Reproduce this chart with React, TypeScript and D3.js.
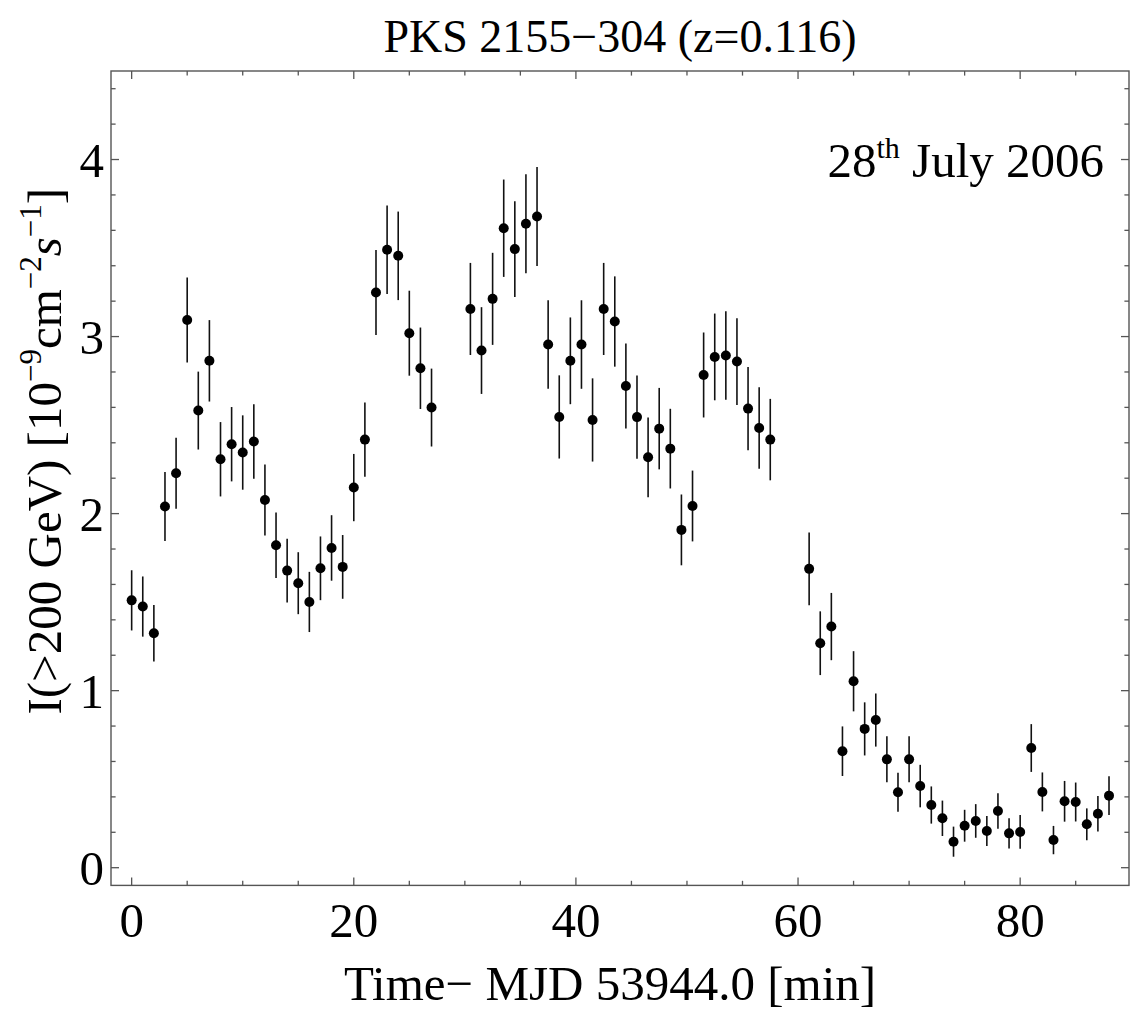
import React from "react";
import * as d3 from "d3";

const times: number[] = [
  0, 1, 2, 3, 4, 5, 6, 7, 8, 9, 10, 11, 12, 13, 14, 15, 16, 17, 18, 19, 20, 21, 22, 23, 24, 25, 26, 27,
  30.5, 31.5, 32.5, 33.5, 34.5, 35.5, 36.5, 37.5, 38.5, 39.5, 40.5, 41.5, 42.5, 43.5, 44.5, 45.5, 46.5, 47.5, 48.5, 49.5, 50.5, 51.5, 52.5, 53.5, 54.5, 55.5, 56.5, 57.5,
  61, 62, 63, 64, 65, 66, 67, 68, 69, 70, 71, 72, 73, 74, 75, 76, 77, 78, 79, 80, 81, 82, 83, 84, 85, 86, 87, 88,
];

const flux: number[] = [
  1.51, 1.475, 1.324, 2.04, 2.228, 3.094, 2.582, 2.863, 2.307, 2.392, 2.345, 2.407, 2.077, 1.821,
  1.678, 1.607, 1.501, 1.691, 1.806, 1.699, 2.147, 2.418, 3.249, 3.49, 3.456, 3.019, 2.821, 2.599,
  3.156, 2.921, 3.213, 3.612, 3.494, 3.637, 3.678, 2.955, 2.546, 2.863, 2.955, 2.529, 3.156, 3.085,
  2.721, 2.545, 2.318, 2.48, 2.367, 1.908, 2.043, 2.783, 2.885, 2.893, 2.859, 2.593, 2.484, 2.418,
  1.688, 1.268, 1.362, 0.658, 1.053, 0.784, 0.834, 0.612, 0.426, 0.612, 0.461, 0.354, 0.279, 0.147,
  0.237, 0.264, 0.207, 0.32, 0.194, 0.202, 0.676, 0.428, 0.156, 0.375, 0.371, 0.245, 0.305, 0.407,
];

const fluxErr: number[] = [
  0.17, 0.17, 0.16, 0.195, 0.2, 0.24, 0.22, 0.23, 0.21, 0.21, 0.21, 0.21, 0.2, 0.185,
  0.18, 0.175, 0.17, 0.18, 0.185, 0.18, 0.19, 0.21, 0.24, 0.25, 0.25, 0.24, 0.23, 0.22,
  0.26, 0.245, 0.26, 0.275, 0.27, 0.28, 0.28, 0.25, 0.235, 0.245, 0.25, 0.235, 0.26, 0.255,
  0.24, 0.235, 0.225, 0.23, 0.225, 0.2, 0.2, 0.24, 0.245, 0.25, 0.245, 0.235, 0.23, 0.23,
  0.205, 0.18, 0.19, 0.14, 0.17, 0.15, 0.15, 0.13, 0.11, 0.13, 0.12, 0.105, 0.1, 0.085,
  0.09, 0.095, 0.085, 0.1, 0.085, 0.095, 0.135, 0.11, 0.08, 0.115, 0.11, 0.09, 0.1, 0.11,
];

const xMajorTicks: number[] = [0, 20, 40, 60, 80];
const xMinorTicks: number[] = [5, 10, 15, 25, 30, 35, 45, 50, 55, 65, 70, 75, 85];
const yMajorTicks: number[] = [0, 1, 2, 3, 4];
const yMinorTicks: number[] = [0.2, 0.4, 0.6, 0.8, 1.2, 1.4, 1.6, 1.8, 2.2, 2.4, 2.6, 2.8, 3.2, 3.4, 3.6, 3.8, 4.2, 4.4];

const W = 1130;
const H = 1013;
const L = 111;
const R = 1129;
const T = 71;
const B = 885.4;
const FONT = "'Liberation Serif', 'Times New Roman', Times, serif";

export default function App() {
  const x = d3.scaleLinear().domain([-1.86, 89.8]).range([L, R]);
  const y = d3.scaleLinear().domain([-0.1, 4.5]).range([B, T]);
  const axisColor = "#555";
  const majorLen = 8;
  const minorLen = 4.6;

  const pts = times.map((t, i) => ({ t, v: flux[i], e: fluxErr[i] }));

  return (
    <div style={{ position: "absolute", left: 0, top: 0 }}>
      <svg width={W} height={H} viewBox={`0 0 ${W} ${H}`} style={{ display: "block", background: "#fff" }}>
        <rect x={0} y={0} width={W} height={H} fill="#fff" />
        {/* title */}
        <text x={(L + R) / 2} y={52} textAnchor="middle" fontFamily={FONT} fontSize={46} fill="#000">
          PKS 2155−304 (z=0.116)
        </text>

        {/* ticks */}
        <g stroke={axisColor} strokeWidth={1.3}>
          {xMajorTicks.map((t) => (
            <g key={"xm" + t}>
              <line x1={x(t)} x2={x(t)} y1={B} y2={B - majorLen} />
              <line x1={x(t)} x2={x(t)} y1={T} y2={T + majorLen} />
            </g>
          ))}
          {xMinorTicks.map((t) => (
            <g key={"xn" + t}>
              <line x1={x(t)} x2={x(t)} y1={B} y2={B - minorLen} />
              <line x1={x(t)} x2={x(t)} y1={T} y2={T + minorLen} />
            </g>
          ))}
          {yMajorTicks.map((v) => (
            <g key={"ym" + v}>
              <line x1={L} x2={L + majorLen} y1={y(v)} y2={y(v)} />
              <line x1={R} x2={R - majorLen} y1={y(v)} y2={y(v)} />
            </g>
          ))}
          {yMinorTicks.map((v) => (
            <g key={"yn" + v}>
              <line x1={L} x2={L + minorLen} y1={y(v)} y2={y(v)} />
              <line x1={R} x2={R - minorLen} y1={y(v)} y2={y(v)} />
            </g>
          ))}
        </g>

        {/* frame */}
        <rect x={L} y={T} width={R - L} height={B - T} fill="none" stroke={axisColor} strokeWidth={1.4} />

        {/* tick labels */}
        <g fontFamily={FONT} fontSize={49} fill="#000">
          {xMajorTicks.map((t) => (
            <text key={"xl" + t} x={x(t)} y={937} textAnchor="middle">
              {t}
            </text>
          ))}
          {yMajorTicks.map((v) => (
            <text key={"yl" + v} x={104} y={y(v) + 17} textAnchor="end">
              {v}
            </text>
          ))}
        </g>

        {/* error bars */}
        <g stroke="#111" strokeWidth={1.6}>
          {pts.map((p, i) => (
            <line key={"e" + i} x1={x(p.t)} x2={x(p.t)} y1={y(p.v - p.e)} y2={y(p.v + p.e)} />
          ))}
        </g>
        {/* points */}
        <g fill="#000">
          {pts.map((p, i) => (
            <circle key={"c" + i} cx={x(p.t)} cy={y(p.v)} r={5} />
          ))}
        </g>

        {/* annotation */}
        <text x={1104} y={177} textAnchor="end" fontFamily={FONT} fontSize={49} fill="#000">
          28
          <tspan fontSize={30} dy={-19}>th</tspan>
          <tspan dy={19}> July 2006</tspan>
        </text>

        {/* x label */}
        <text x={(L + R) / 2 - 10} y={1000} textAnchor="middle" fontFamily={FONT} fontSize={49} fill="#000">
          Time− MJD 53944.0 [min]
        </text>

        {/* y label */}
        <text
          transform={`translate(61, ${(T + B) / 2 - 27}) rotate(-90)`}
          textAnchor="middle"
          fontFamily={FONT}
          fontSize={49}
          fill="#000"
        >
          I(&gt;200 GeV) [10
          <tspan fontSize={31} dy={-20}>−9</tspan>
          <tspan dy={20}>cm</tspan>
          <tspan fontSize={31} dy={-20}>−2</tspan>
          <tspan dy={20} fontStyle="italic">s</tspan>
          <tspan fontSize={31} dy={-20}>−1</tspan>
          <tspan dy={20}>]</tspan>
        </text>
      </svg>
    </div>
  );
}
